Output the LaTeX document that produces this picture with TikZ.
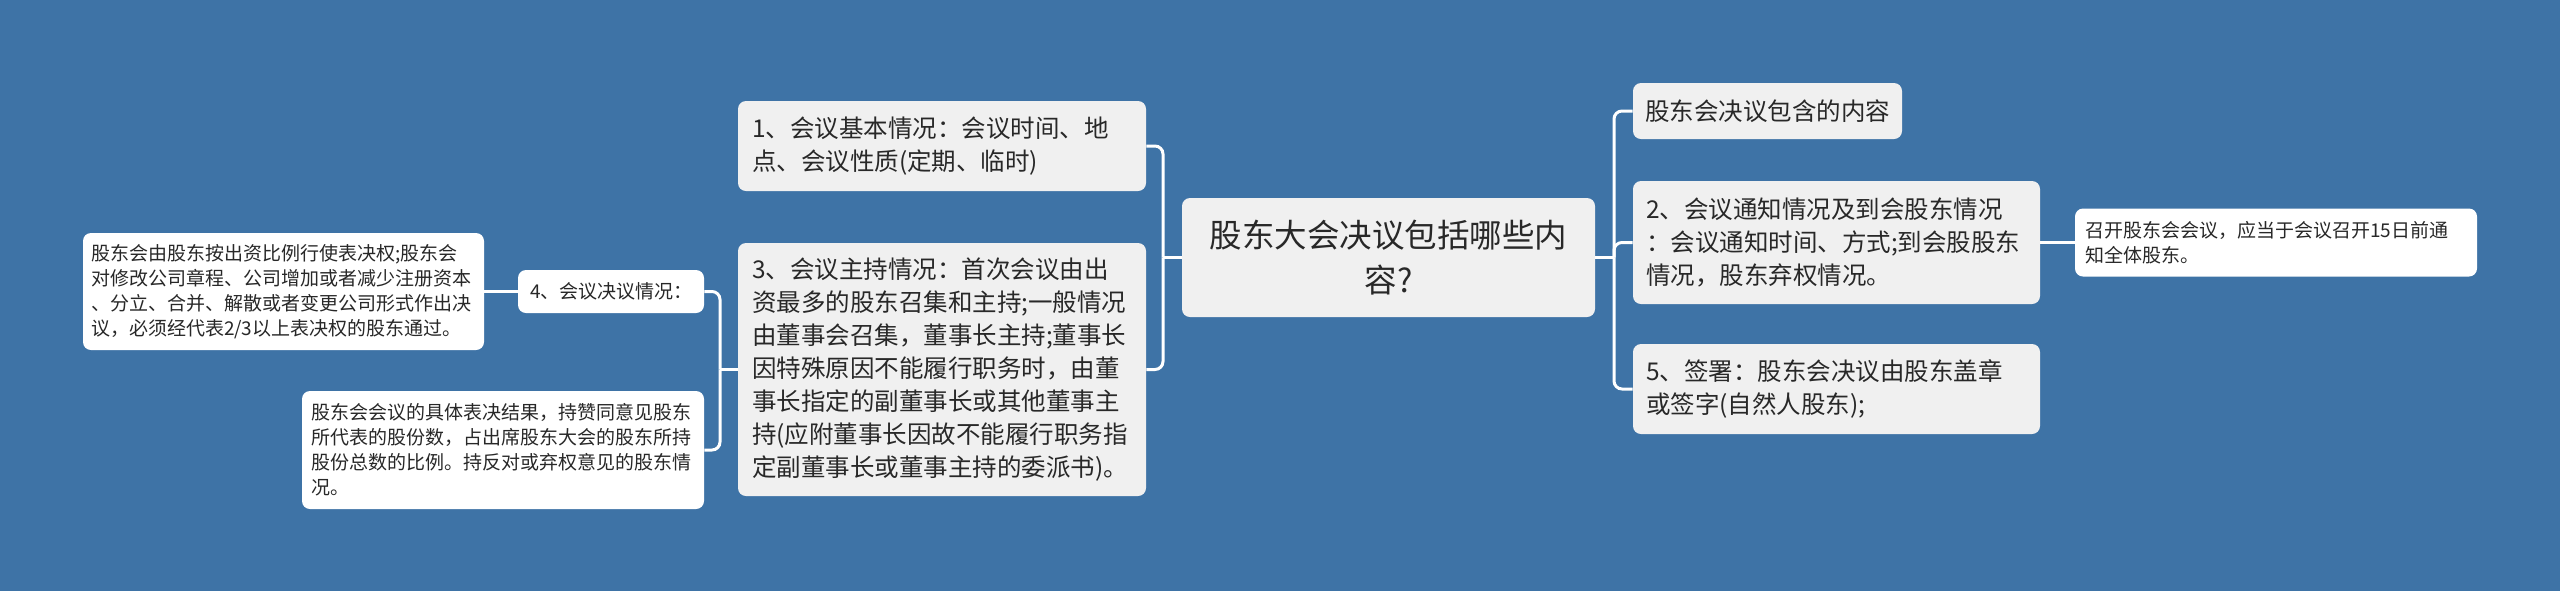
\documentclass[tikz,border=0pt]{standalone}
\usepackage{fontspec}
\setmainfont{Noto Sans CJK SC}
\definecolor{bg}{RGB}{62,115,166}
\definecolor{nodegray}{RGB}{240,240,240}
\definecolor{txt}{RGB}{40,40,40}
\tikzset{
  lvl/.style={fill=nodegray, rounded corners=4pt, text=txt, font=\fontsize{12.25}{16.5}\selectfont, align=left, inner xsep=7pt, inner ysep=0pt},
  leaf/.style={fill=white, rounded corners=4pt, text=txt, font=\fontsize{9.5}{12.5}\selectfont, align=left, inner xsep=4pt, inner ysep=0pt},
  conn/.style={draw=white, line width=1.5pt, rounded corners=4pt}
}
\begin{document}
\begin{tikzpicture}[x=0.5pt,y=-0.5pt]
\fill[bg] (0,0) rectangle (2560,591);
\useasboundingbox (0,0) rectangle (2560,591);

\node[lvl, align=center, font=\fontsize{16.25}{22.5}\selectfont, text width=190pt, inner xsep=8.25pt, minimum height=59.5pt] (C) at (1388.5,257.5) {股东大会决议包括哪些内\\容?};

\node[lvl, text width=190pt, minimum height=45pt] (N1) at (942,146) {1、会议基本情况：会议时间、地\\点、会议性质(定期、临时)};
\node[lvl, text width=190pt, minimum height=126.5pt] (N3) at (942,369.5) {3、会议主持情况：首次会议由出\\资最多的股东召集和主持;一般情况\\由董事会召集，董事长主持;董事长\\因特殊原因不能履行职务时，由董\\事长指定的副董事长或其他董事主\\持(应附董事长因故不能履行职务指\\定副董事长或董事主持的委派书)。};

\node[lvl, text width=122.5pt, inner xsep=6pt, minimum height=28pt] (R1) at (1767.5,111) {股东会决议包含的内容};
\node[lvl, text width=190.5pt, inner xsep=6.5pt, minimum height=61.5pt] (R2) at (1836.5,242.5) {2、会议通知情况及到会股东情况\\：会议通知时间、方式;到会股股东\\情况，股东弃权情况。};
\node[lvl, text width=190.5pt, inner xsep=6.5pt, minimum height=45pt] (R5) at (1836.5,389) {5、签署：股东会决议由股东盖章\\或签字(自然人股东);};

\node[leaf, text width=191pt, inner xsep=5pt, minimum height=34pt] (R2a) at (2276,242.5) {召开股东会会议，应当于会议召开15日前通\\知全体股东。};

\node[leaf, text width=81pt, inner xsep=6pt, minimum height=21.5pt] (N4) at (611,291.5) {4、会议决议情况：};
\node[leaf, text width=192.5pt, inner xsep=4pt, minimum height=58.5pt] (La) at (283.5,291.5) {股东会由股东按出资比例行使表决权;股东会\\对修改公司章程、公司增加或者减少注册资本\\、分立、合并、解散或者变更公司形式作出决\\议，必须经代表2/3以上表决权的股东通过。};
\node[leaf, text width=192pt, inner xsep=4.5pt, minimum height=59pt] (Lb) at (503,450) {股东会会议的具体表决结果，持赞同意见股东\\所代表的股份数，占出席股东大会的股东所持\\股份总数的比例。持反对或弃权意见的股东情\\况。};

\coordinate (jL) at (1163,257.5);
\coordinate (jR) at (1614,257.5);
\coordinate (jN) at (720,369.5);

\draw[conn] (C.west) -- (jL);
\draw[conn] (jL) |- (N1.east);
\draw[conn] (jL) |- (N3.east);

\draw[conn] (C.east) -- (jR);
\draw[conn] (jR) |- (R1.west);
\draw[conn] (jR) |- (R2.west);
\draw[conn] (jR) |- (R5.west);
\draw[conn] (R2.east) -- (R2a.west);

\draw[conn] (N3.west) -- (jN);
\draw[conn] (jN) |- (N4.east);
\draw[conn] (jN) |- (Lb.east);
\draw[conn] (N4.west) -- (La.east);
\end{tikzpicture}
\end{document}
